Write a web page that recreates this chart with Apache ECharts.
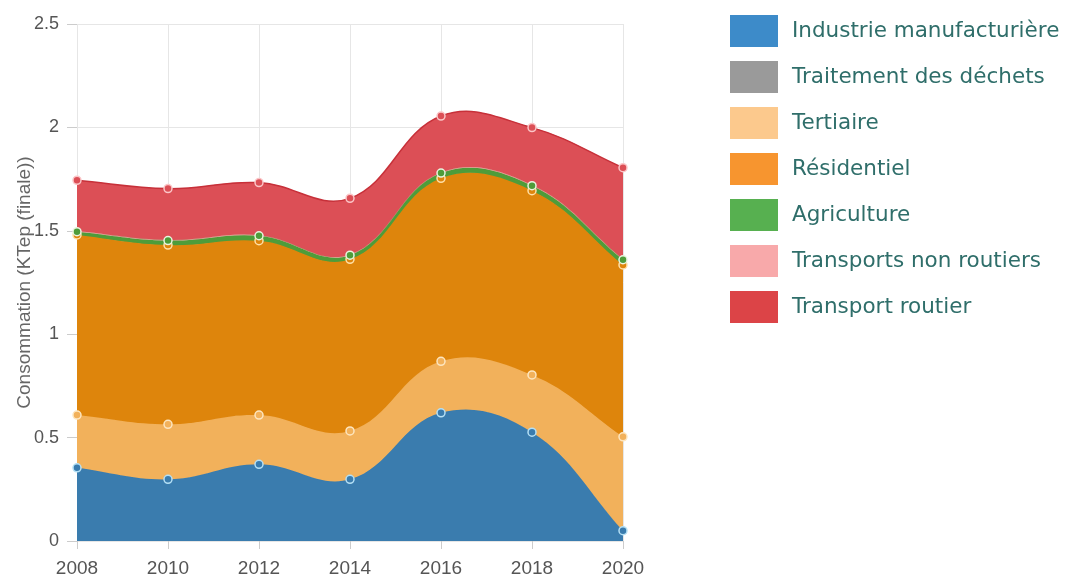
<!DOCTYPE html>
<html>
<head>
<meta charset="utf-8">
<script src="https://cdn.jsdelivr.net/npm/echarts@6/dist/echarts.min.js"></script>
<style>
  html, body { margin: 0; padding: 0; background: #fff; }
  #chart { width: 1067px; height: 576px; }
</style>
</head>
<body>
<div id="chart"></div>
<script>
// Years on the horizontal axis
var years = ['2008', '2010', '2012', '2014', '2016', '2018', '2020'];

// Consumption per sector (KTep finale), stacked bottom to top in this order
var industrie   = [0.354, 0.298, 0.371, 0.298, 0.620, 0.526, 0.050];
var dechets     = [0, 0, 0, 0, 0, 0, 0];
var tertiaire   = [0.255, 0.266, 0.238, 0.234, 0.249, 0.277, 0.454];
var residentiel = [0.871, 0.867, 0.843, 0.830, 0.885, 0.891, 0.831];
var agriculture = [0.016, 0.022, 0.024, 0.020, 0.025, 0.024, 0.025];
var nonRoutier  = [0.003, 0.003, 0.003, 0.003, 0.003, 0.003, 0.003];
var routier     = [0.245, 0.248, 0.254, 0.272, 0.273, 0.278, 0.442];

var yTicks = [0, 0.5, 1, 1.5, 2, 2.5];

// Sector definitions: values plus styling
var sectors = [
  { name: 'Industrie manufacturière', values: industrie,   legend: '#3d8bc9', area: '#3a7cae', line: '#3a7cae', ring: '#b5e0f5', dots: true },
  { name: 'Traitement des déchets',   values: dechets,     legend: '#9a9a9a', area: '#9a9a9a', line: null,      ring: '#ffffff', dots: false },
  { name: 'Tertiaire',                values: tertiaire,   legend: '#fcc98d', area: '#f2b15b', line: '#f2b15b', ring: '#fde6c0', dots: true },
  { name: 'Résidentiel',              values: residentiel, legend: '#f7952f', area: '#de850c', line: '#de850c', ring: '#ffe0a8', dots: true },
  { name: 'Agriculture',              values: agriculture, legend: '#57b050', area: '#4e9c3a', line: '#4e9c3a', ring: '#e8f5e0', dots: true },
  { name: 'Transports non routiers',  values: nonRoutier,  legend: '#f8a9aa', area: '#f8a9aa', line: null,      ring: '#ffffff', dots: false },
  { name: 'Transport routier',        values: routier,     legend: '#dc4447', area: '#dc4f56', line: '#c73039', ring: '#fbc6c8', dots: true }
];

// Running stack: bottom and top of each band
var running = years.map(function () { return 0; });
sectors.forEach(function (s) {
  s.bottom = running.slice();
  s.top = s.values.map(function (v, i) { return running[i] + v; });
  running = s.top.slice();
});

// Cardinal-spline control points (tension in pixel space)
var TENSION = 0.4;
function controls(pts) {
  return pts.map(function (p, i) {
    var prev = pts[i - 1] || p, next = pts[i + 1] || p;
    var d01 = Math.hypot(p[0] - prev[0], p[1] - prev[1]);
    var d12 = Math.hypot(next[0] - p[0], next[1] - p[1]);
    var sum = d01 + d12 || 1;
    var fa = TENSION * d01 / sum, fb = TENSION * d12 / sum;
    var dx = next[0] - prev[0], dy = next[1] - prev[1];
    return {
      before: [p[0] - fa * dx, p[1] - fa * dy],
      after: [p[0] + fb * dx, p[1] + fb * dy]
    };
  });
}
function curveForward(pts, start) {
  var c = controls(pts);
  var d = (start ? 'M' : 'L') + pts[0][0] + ' ' + pts[0][1];
  for (var i = 1; i < pts.length; i++) {
    d += ' C' + c[i - 1].after[0] + ' ' + c[i - 1].after[1] + ' ' +
         c[i].before[0] + ' ' + c[i].before[1] + ' ' + pts[i][0] + ' ' + pts[i][1];
  }
  return d;
}

function bandSeries(s) {
  return {
    name: s.name,
    type: 'custom',
    coordinateSystem: 'cartesian2d',
    itemStyle: { color: s.legend },
    data: years.map(function (y, i) { return [i, s.top[i], s.bottom[i]]; }),
    encode: { x: 0, y: 1 },
    z: 2,
    silent: true,
    renderItem: function (params, api) {
      if (params.dataIndex !== 0) return null;
      var topPts = s.top.map(function (v, i) { return api.coord([i, v]); });
      var botPts = s.bottom.map(function (v, i) { return api.coord([i, v]); }).reverse();
      var children = [{
        type: 'path',
        shape: { pathData: curveForward(topPts, true) + ' ' + curveForward(botPts, false) + ' Z' },
        style: { fill: s.area, stroke: null }
      }];
      if (s.line) {
        children.push({
          type: 'path',
          shape: { pathData: curveForward(topPts, true) },
          style: { fill: null, stroke: s.line, lineWidth: 1.5 }
        });
      }
      return { type: 'group', children: children };
    }
  };
}

function dotSeries(s) {
  return {
    name: s.name + ' ',
    type: 'scatter',
    data: years.map(function (y, i) { return [i, s.top[i]]; }),
    symbol: 'circle',
    symbolSize: 8,
    itemStyle: { color: s.area, borderColor: s.ring, borderWidth: 1.5, opacity: 1 },
    emphasis: { disabled: true },
    silent: true,
    z: 5
  };
}

var series = sectors.map(bandSeries).concat(
  sectors.filter(function (s) { return s.dots; }).map(dotSeries)
);

var chart = echarts.init(document.getElementById('chart'));
chart.setOption({
  animation: false,
  grid: { left: 77, right: 444, top: 24, bottom: 35, containLabel: false, outerBoundsMode: 'none' },
  legend: {
    data: sectors.map(function (s) { return s.name; }),
    orient: 'vertical',
    left: 730,
    top: 15,
    padding: 0,
    itemWidth: 48,
    itemHeight: 32,
    itemGap: 14,
    icon: 'rect',
    itemStyle: { borderWidth: 0 },
    textStyle: { fontFamily: 'DejaVu Sans', fontSize: 21.5, color: '#2f6e6a', padding: [0, 0, 0, 9] },
    selectedMode: false
  },
  xAxis: {
    type: 'category',
    data: years,
    boundaryGap: false,
    axisLine: { show: false },
    axisTick: { show: true, length: 8, lineStyle: { color: '#ccc' } },
    axisLabel: { fontFamily: 'Liberation Sans', fontSize: 19, color: '#555', margin: 18 },
    splitLine: { show: true, lineStyle: { color: '#e6e6e6' } }
  },
  yAxis: {
    type: 'value',
    min: yTicks[0],
    max: yTicks[yTicks.length - 1],
    interval: 0.5,
    name: 'Consommation (KTep (finale))',
    nameLocation: 'middle',
    nameGap: 43,
    nameMoveOverlap: false,
    nameTextStyle: { fontFamily: 'Liberation Sans', fontSize: 19, color: '#666' },
    axisLine: { show: false },
    axisTick: { show: true, length: 10, lineStyle: { color: '#ccc' } },
    axisLabel: { fontFamily: 'Liberation Sans', fontSize: 18, color: '#555', margin: 18 },
    splitLine: { show: true, lineStyle: { color: '#e6e6e6' } }
  },
  series: series
});
</script>
</body>
</html>
